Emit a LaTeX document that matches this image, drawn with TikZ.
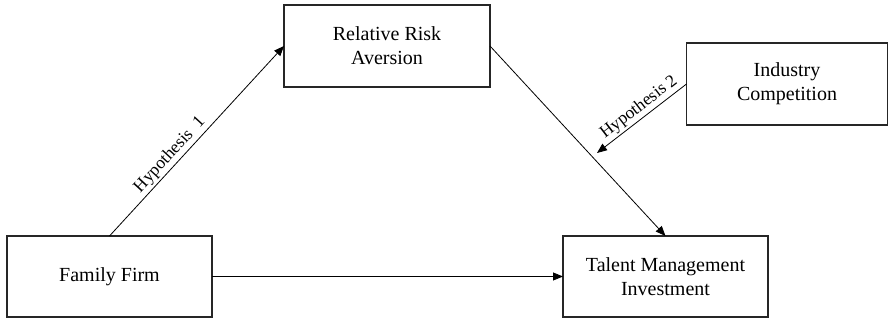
\documentclass[tikz,border=0pt]{standalone}
\usepackage{fontspec}
\setmainfont{Liberation Serif}
\usetikzlibrary{arrows.meta}
\begin{document}
\begin{tikzpicture}[x=1pt,y=-1pt,
  box/.style={draw=black!85,line width=1.2pt,inner sep=0pt,outer sep=0pt,align=center,
    font=\fontsize{20}{24}\selectfont},
  arr/.style={line width=0.8pt,-{Triangle[length=10pt,width=8pt]}},
  hyp/.style={font=\fontsize{17.5}{20}\selectfont,sloped,above,inner sep=2pt}]
\useasboundingbox (0,0) rectangle (889,321);
\node[box,minimum width=206pt,minimum height=82pt] (rra) at (387,46) {Relative Risk\\Aversion};
\node[box,minimum width=201pt,minimum height=82pt] (ic) at (787,84) {Industry\\Competition};
\node[box,minimum width=205pt,minimum height=81pt] (ff) at (109.5,276.5) {Family Firm};
\node[box,minimum width=205pt,minimum height=81pt] (tm) at (665.5,276.5) {Talent Management\\Investment};
\coordinate (h2end) at (597,153);
\draw[arr] (ff.north) -- node[hyp,pos=0.39] {Hypothesis\ \ 1} (rra.west);
\draw[arr] (rra.east) -- (tm.north);
\draw[arr] (ic.west) -- node[hyp,pos=0.46] {Hypothesis 2} (h2end);
\draw[arr] (ff.east) -- (tm.west);
\end{tikzpicture}
\end{document}
